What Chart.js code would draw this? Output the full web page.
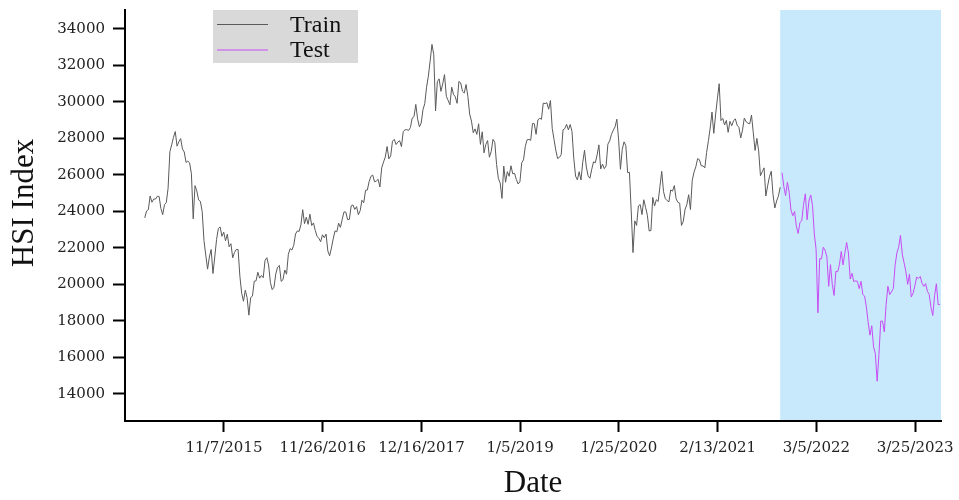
<!DOCTYPE html>
<html>
<head>
<meta charset="utf-8">
<script src="https://cdn.jsdelivr.net/npm/chart.js@4.4.0/dist/chart.umd.min.js"></script>
<style>
  html, body { margin: 0; padding: 0; background: #ffffff; }
  #wrap { width: 959px; height: 500px; }
</style>
</head>
<body>
<div id="wrap"><canvas id="chart" width="959" height="500"></canvas></div>
<script>
// ---- axis labels ----
const xTickLabels = ['11/7/2015', '11/26/2016', '12/16/2017', '1/5/2019', '1/25/2020', '2/13/2021', '3/5/2022', '3/25/2023'];
const yTickValues = [14000, 16000, 18000, 20000, 22000, 24000, 26000, 28000, 30000, 32000, 34000];
const xRange = ['2014-10-17', '2023-07-04'];
const testShadeStart = '2021-10-15';

// ---- weekly HSI closes (Friday), each block starts on the date given ----
const trainStarts = ['2015-01-02', '2016-01-01', '2017-01-06', '2018-01-05', '2019-01-04', '2020-01-03', '2021-01-01'];
const testStarts = ['2021-10-22', '2022-01-07', '2023-01-06'];

const hsi2015 = [23650, 24026, 24103, 24850, 24507, 24679, 24682, 24832, 24823, 24164, 23823, 24375, 24486,
  25275, 27273, 27653, 28061, 28380, 27577, 27822, 27993, 27424, 27260, 26687, 26760, 26663, 26064, 23600,
  25415, 25128, 24636, 24552, 23991, 22410, 21612, 20841, 21504, 21920, 20600, 21506, 22458, 23067, 23152,
  22640, 22868, 22397, 22754, 22068, 22235, 21464, 21756, 21919];
const hsi2016 = [21914, 20454, 19520, 19081, 19683, 19289, 18320, 19286, 19364, 20176, 20200, 20671, 20346,
  20498, 20370, 21316, 21467, 21067, 20109, 19719, 19852, 20576, 20947, 21042, 20170, 20259, 20794, 20564,
  21659, 21964, 21891, 22146, 22767, 22937, 22910, 23267, 24099, 23335, 23686, 23297, 23852, 23233, 23374,
  22955, 22643, 22531, 22344, 22723, 22565, 22761, 21832, 21575, 22001];
const hsi2017 = [22503, 22937, 22885, 23361, 23129, 23574, 23979, 23965, 23553, 23568, 24309, 24358, 24112,
  24267, 23824, 24043, 24615, 24476, 25156, 25175, 25639, 25924, 25996, 25626, 25670, 25764, 25341, 26389,
  26706, 26979, 27562, 26884, 27047, 27848, 27953, 27668, 27808, 27880, 27554, 28379, 28476, 28487, 28439,
  28603, 29121, 29199, 29866, 29074, 28640, 28848, 29579, 29919];
const hsi2018 = [30814, 31412, 32255, 33154, 32601, 29507, 31115, 31267, 30583, 30996, 31502, 30309, 30093,
  29845, 30809, 30418, 30281, 29927, 31122, 31048, 30588, 30493, 30958, 30309, 29339, 28955, 28316, 28525,
  28224, 28804, 27676, 28367, 27213, 27672, 27889, 26973, 27286, 27953, 27788, 26572, 25801, 25561, 24717,
  26486, 25602, 26183, 25928, 26507, 26063, 26094, 25754, 25504];
const hsi2019 = [25626, 26667, 26830, 27569, 27930, 27946, 27901, 28816, 28812, 28228, 29012, 29113, 29051,
  29936, 29910, 29963, 29605, 30082, 28550, 27946, 27353, 26901, 26965, 27118, 28473, 28543, 28775, 28471,
  28765, 28397, 26919, 25939, 25734, 26179, 25725, 26691, 27353, 26436, 25955, 25821, 26308, 26720, 26667,
  27100, 27651, 26327, 26596, 26346, 26498, 27688, 27871, 28225];
const hsi2020 = [28452, 28638, 29056, 27909, 26313, 27404, 27816, 27609, 26130, 26147, 24032, 21750, 23484,
  23236, 24300, 24380, 23831, 24643, 24230, 23797, 22930, 22961, 24770, 24301, 24644, 24549, 25373, 26200,
  25089, 24705, 24595, 24531, 25183, 25113, 25422, 24695, 24503, 24455, 23235, 23459, 24119, 24386, 24918,
  24107, 25712, 26157, 26451, 26894, 26835, 26506, 26498, 26387];
const hsi2021 = [27231, 27878, 28573, 29447, 28284, 29289, 30173, 31000, 28980, 29098, 28739, 28990, 28336,
  28939, 28698, 28970, 29078, 28725, 28610, 28028, 28458, 29124, 28918, 28842, 28801, 29288, 28310, 27344,
  28004, 27321, 25961, 26179, 26391, 24849, 25407, 25901, 26205, 24920, 24192, 24576, 24838, 25331];

const test2021 = [26126, 25377, 24871, 25600, 25050, 24080, 23767, 23996, 23193, 22800, 23398];
const test2022 = [23493, 24383, 24966, 23550, 24573, 24906, 24328, 22767, 21906, 18450, 21412, 21405, 22040,
  21872, 21518, 19900, 21089, 20002, 19400, 20717, 20697, 21082, 21806, 21075, 21719, 22300, 21726, 20297,
  20609, 20156, 20201, 20175, 19773, 20170, 19452, 19362, 18762, 17933, 17223, 17740, 16588, 16211, 14700,
  16161, 18000, 17993, 17400, 18900, 19900, 19450, 19593, 19781];
const test2023 = [21052, 21738, 22045, 22689, 21660, 21190, 20719, 20010, 20567, 19320, 19518, 19915, 20400,
  20331, 20438, 20075, 19895, 20049, 19627, 19451, 18746, 18300, 19390, 20040, 18890, 18916];

// ---- helpers ----
const DAY = 86400000;
function isoDay(s) {
  const [y, m, d] = s.split('-').map(Number);
  return Date.UTC(y, m - 1, d) / DAY;
}
function mdyDay(s) {
  const [m, d, y] = s.split('/').map(Number);
  return Date.UTC(y, m - 1, d) / DAY;
}
function weeklyPoints(starts, blocks) {
  const pts = [];
  blocks.forEach((vals, b) => {
    const d0 = isoDay(starts[b]);
    vals.forEach((v, i) => pts.push({ x: d0 + 7 * i, y: v }));
  });
  return pts;
}

const trainPoints = weeklyPoints(trainStarts, [hsi2015, hsi2016, hsi2017, hsi2018, hsi2019, hsi2020, hsi2021]);
const testPoints = weeklyPoints(testStarts, [test2021, test2022, test2023]);

const TRAIN_COLOR = '#5a5a5a';
const TEST_COLOR = '#c84cf5';
const SERIF = '"Liberation Serif", "Times New Roman", serif';
const TICK_FONT = { family: '"DejaVu Serif", Georgia, serif', size: 15 };

// light-blue band behind the test period, axis titles and the boxed legend
const decorations = {
  id: 'decorations',
  beforeDraw(chart) {
    const { ctx, chartArea, scales } = chart;
    const x0 = scales.x.getPixelForValue(isoDay(testShadeStart));
    ctx.save();
    ctx.fillStyle = '#c7e9fb';
    ctx.fillRect(x0, chartArea.top, chartArea.right - x0, chartArea.bottom - chartArea.top);
    ctx.restore();
  },
  afterDraw(chart) {
    const { ctx } = chart;
    ctx.save();
    ctx.fillStyle = '#111';
    ctx.font = '31px ' + SERIF;
    ctx.textAlign = 'center';
    ctx.textBaseline = 'middle';
    ctx.fillText('Date', 533, 484);
    ctx.translate(25, 203);
    ctx.rotate(-Math.PI / 2);
    ctx.fillText('HSI Index', 0, 0);
    ctx.restore();

    ctx.save();
    ctx.fillStyle = '#d9d9d9';
    ctx.fillRect(213, 10, 145, 53);
    const rows = [['Train', TRAIN_COLOR, 24.5, 32], ['Test', TEST_COLOR, 50, 57]];
    rows.forEach(([label, color, ly, ty]) => {
      ctx.strokeStyle = color;
      ctx.lineWidth = 1;
      ctx.beginPath();
      ctx.moveTo(217, ly);
      ctx.lineTo(268, ly);
      ctx.stroke();
      ctx.fillStyle = '#111';
      ctx.font = '24px ' + SERIF;
      ctx.textAlign = 'left';
      ctx.textBaseline = 'alphabetic';
      ctx.fillText(label, 290, ty);
    });
    ctx.restore();
  }
};

new Chart(document.getElementById('chart'), {
  type: 'line',
  data: {
    datasets: [
      { label: 'Train', data: trainPoints, borderColor: TRAIN_COLOR, borderWidth: 1, pointRadius: 0, fill: false },
      { label: 'Test', data: testPoints, borderColor: TEST_COLOR, borderWidth: 1, pointRadius: 0, fill: false }
    ]
  },
  options: {
    responsive: false,
    animation: false,
    layout: { padding: { left: 0, right: 18, top: 10, bottom: 0 } },
    plugins: { legend: { display: false }, tooltip: { enabled: false } },
    elements: { line: { tension: 0 } },
    scales: {
      x: {
        type: 'linear',
        min: isoDay(xRange[0]),
        max: isoDay(xRange[1]),
        afterBuildTicks: (s) => { s.ticks = xTickLabels.map(l => ({ value: mdyDay(l) })); },
        afterFit: (s) => { s.height = 79; s.paddingLeft = 0; s.paddingRight = 0; },
        grid: { drawOnChartArea: false, drawTicks: true, tickLength: 11, tickWidth: 2, tickColor: '#000' },
        border: { display: true, color: '#000', width: 2 },
        ticks: {
          callback: (v, i) => xTickLabels[i],
          font: TICK_FONT, color: '#222', padding: 7, maxRotation: 0, autoSkip: false
        }
      },
      y: {
        min: 12520,
        max: 35040,
        afterBuildTicks: (s) => { s.ticks = yTickValues.map(v => ({ value: v })); },
        afterFit: (s) => { s.width = 125; s.paddingTop = 0; s.paddingBottom = 0; },
        grid: { drawOnChartArea: false, drawTicks: true, tickLength: 12, tickWidth: 2, tickColor: '#000' },
        border: { display: true, color: '#000', width: 2 },
        ticks: {
          callback: (v) => String(v),
          font: TICK_FONT, color: '#222', padding: 8
        }
      }
    }
  },
  plugins: [decorations]
});
</script>
</body>
</html>
